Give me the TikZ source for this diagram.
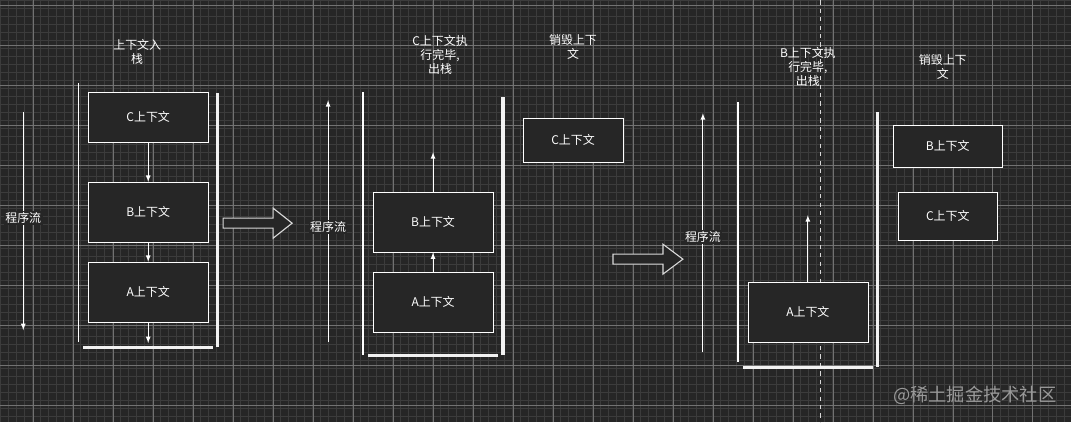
\documentclass[tikz,border=0pt]{standalone}
\usepackage{fontspec}
\setmainfont{Noto Sans CJK SC}

\begin{document}
\begin{tikzpicture}[x=0.025cm,y=-0.025cm,
    ctx/.style={draw=white,fill=black!85,text=white,font=\fontsize{8.5}{10}\selectfont,minimum width=#1*0.025cm},
    lbl/.style={text=white,font=\fontsize{8.5}{10}\selectfont,align=center},
    wall/.style={white!95!black,line width=2.2pt},
    flow/.style={white,line width=0.6pt,-latex},
    push/.style={draw=white!85!black,fill=black!85,line width=0.8pt}]
    % background and grid
    \fill[black!85] (0,0) rectangle (1071,422);
    \foreach \g in {0,8,...,1071} \draw[white!10!black!85,line width=0.2pt] (\g,0) -- (\g,422);
    \foreach \g in {0,8,...,422} \draw[white!10!black!85,line width=0.2pt] (0,\g) -- (1071,\g);
    \foreach \g in {33,73,...,1071} \draw[white!35!black!85,line width=0.4pt] (\g,0) -- (\g,422);
    \foreach \g in {5,45,...,422} \draw[white!35!black!85,line width=0.4pt] (0,\g) -- (1071,\g);
    \useasboundingbox (0,0) rectangle (1071,422);

    % first stack
    \node [lbl] (t1) at (137,52) {上下文入\\栈};
    \node [ctx=120,minimum height=50*0.025cm] (c1) at (148,117) {C上下文};
    \node [ctx=120,minimum height=60*0.025cm] (b1) at (148,212) {B上下文};
    \node [ctx=120,minimum height=60*0.025cm] (a1) at (148,292) {A上下文};
    \coordinate (e1) at (148,343);
    \draw [flow] (c1) -- (b1);
    \draw [flow] (b1) -- (a1);
    \draw [flow] (a1) -- (e1);
    \draw [white,line width=1pt] (78,83) -- (78,342);
    \draw [wall] (217,93) -- (217,347);
    \draw [wall] (83,347) -- (213,347);
    \coordinate (p1a) at (23,112); \coordinate (p1b) at (23,330);
    \draw [flow] (p1a) -- (p1b);
    \node [lbl,fill=black!85,inner sep=1pt] (f1) at (23,218) {程序流};
    \draw [push] (223,218) -- (273,218) -- (273,208) -- (292,223) -- (273,238) -- (273,228) -- (223,228) -- cycle;

    % second stack
    \node [lbl] (t2) at (440,55) {C上下文执\\行完毕,\\出栈};
    \node [ctx=120,minimum height=60*0.025cm] (b2) at (433,222) {B上下文};
    \node [ctx=120,minimum height=60*0.025cm] (a2) at (433,302) {A上下文};
    \coordinate (e2) at (433,152);
    \draw [flow] (a2) -- (b2);
    \draw [flow] (b2) -- (e2);
    \draw [white,line width=1pt] (363,92) -- (363,355);
    \draw [wall] (503,97) -- (503,355);
    \draw [wall] (368,355) -- (498,355);
    \coordinate (p2a) at (328,342); \coordinate (p2b) at (328,100);
    \draw [flow] (p2a) -- (p2b);
    \node [lbl,fill=black!85,inner sep=1pt] (f2) at (328,227) {程序流};
    \node [lbl] (d2) at (573,47) {销毁上下\\文};
    \node [ctx=100,minimum height=44*0.025cm] (c2) at (573,140) {C上下文};
    \draw [push] (613,254) -- (663,254) -- (663,244) -- (683,259) -- (663,274) -- (663,264) -- (613,264) -- cycle;

    % third stack
    \draw [white!85!black,dashed,line width=0.4pt] (820,0) -- (820,422);
    \node [lbl] (t3) at (808,67) {B上下文执\\行完毕,\\出栈};
    \node [ctx=120,minimum height=60*0.025cm] (a3) at (808,312) {A上下文};
    \coordinate (e3) at (808,215);
    \draw [flow] (a3) -- (e3);
    \draw [white,line width=1pt] (738,102) -- (738,362);
    \draw [wall] (878,112) -- (878,367);
    \draw [wall] (743,367) -- (873,367);
    \coordinate (p3a) at (703,352); \coordinate (p3b) at (703,113);
    \draw [flow] (p3a) -- (p3b);
    \node [lbl,fill=black!85,inner sep=1pt] (f3) at (703,237) {程序流};
    \node [lbl] (d3) at (943,67) {销毁上下\\文};
    \node [ctx=110,minimum height=42*0.025cm] (b3) at (948,146) {B上下文};
    \node [ctx=100,minimum height=48*0.025cm] (c3) at (948,216) {C上下文};

    \node [text=white!60!black,font=\fontsize{13}{15}\selectfont] (w) at (975,395) {@稀土掘金技术社区};
\end{tikzpicture}
\end{document}
